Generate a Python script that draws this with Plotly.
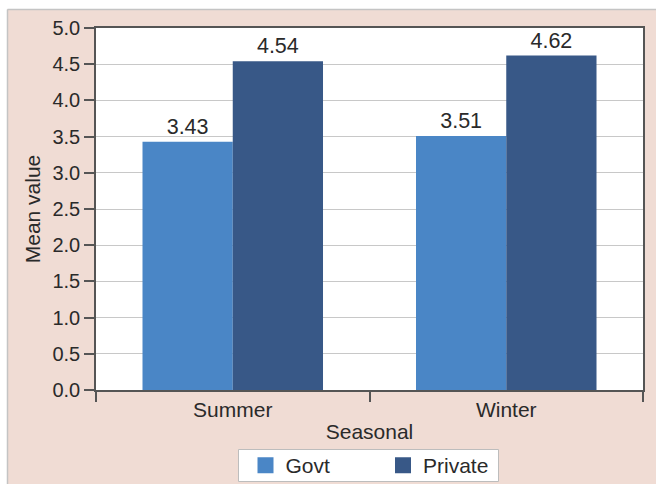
import plotly.graph_objects as go

categories = ["Summer", "Winter"]
govt = [3.43, 3.51]
private = [4.54, 4.62]
y_ticks = [0.0, 0.5, 1.0, 1.5, 2.0, 2.5, 3.0, 3.5, 4.0, 4.5, 5.0]
series_names = ["Govt", "Private"]
series_colors = ["#4a86c6", "#385887"]

PINK = "#f0dcd4"
FONT = "Liberation Sans, Arial, sans-serif"
TXT = "#2a2a2a"
AX = "#555555"

fig = go.Figure()
for name, vals, col in zip(series_names, [govt, private], series_colors):
    fig.add_trace(go.Bar(name=name, x=categories, y=vals, marker=dict(color=col, line=dict(width=0)),
                         text=[f"{v:.2f}" for v in vals], textposition="outside", cliponaxis=False,
                         textfont=dict(size=21.5, color=TXT, family=FONT), showlegend=False))
# legend proxies (larger square swatches)
for name, col in zip(series_names, series_colors):
    fig.add_trace(go.Scatter(name=name, x=[None], y=[None], mode="markers",
                             marker=dict(symbol="square", size=16, color=col), showlegend=True))

L, R, T, B = 96, 13, 28, 94
W, H = 656, 484
pw, ph = W - L - R, H - T - B

def px2x(px):
    return (px - L) / pw

def py2y(py):
    return (H - B - py) / ph

# white strips on top and left, with gray border line
fig.add_shape(type="rect", xref="paper", yref="paper", layer="below",
              x0=px2x(-5), x1=px2x(7), y0=py2y(H + 5), y1=py2y(-5),
              fillcolor="white", line=dict(width=0))
fig.add_shape(type="rect", xref="paper", yref="paper", layer="below",
              x0=px2x(-5), x1=px2x(W + 5), y0=py2y(9), y1=py2y(-5),
              fillcolor="white", line=dict(width=0))
fig.add_shape(type="line", xref="paper", yref="paper", layer="below",
              x0=px2x(7.5), x1=px2x(W + 5), y0=py2y(9.5), y1=py2y(9.5),
              line=dict(color="#c4c4c4", width=1.5))
fig.add_shape(type="line", xref="paper", yref="paper", layer="below",
              x0=px2x(7.5), x1=px2x(7.5), y0=py2y(9.5), y1=py2y(H + 5),
              line=dict(color="#c4c4c4", width=1.5))
# legend box
fig.add_shape(type="rect", xref="paper", yref="paper", layer="above",
              x0=px2x(238.5), x1=px2x(498.5), y0=py2y(481.5), y1=py2y(449.5),
              fillcolor="white", line=dict(color="#bdbdbd", width=1))

fig.update_layout(
    width=W, height=H,
    margin=dict(l=L, r=R, t=T, b=B, autoexpand=False),
    paper_bgcolor=PINK,
    plot_bgcolor="white",
    barmode="group",
    bargap=0.34,
    bargroupgap=0,
    font=dict(family=FONT, size=21, color=TXT),
    showlegend=True,
    legend=dict(orientation="h", x=px2x(245.5), xanchor="left", y=py2y(445), yanchor="top",
                bgcolor="rgba(0,0,0,0)", borderwidth=0,
                font=dict(size=21, color=TXT, family=FONT), entrywidth=92.5,
                itemsizing="trace", itemclick=False),
    xaxis=dict(
        title=dict(text="Seasonal", font=dict(size=21, color=TXT), standoff=4),
        showline=True, linecolor=AX, linewidth=1.5, mirror=True,
        ticks="outside", tickson="boundaries", ticklen=10, tickcolor=AX, tickwidth=1.5,
        tickfont=dict(size=21, color=TXT),
        showgrid=False,
    ),
    yaxis=dict(
        title=dict(text="Mean value", font=dict(size=21, color=TXT), standoff=6),
        range=[0, 5.0],
        tickvals=y_ticks, ticktext=[f"{v:.1f}" for v in y_ticks],
        showline=True, linecolor=AX, linewidth=1.5, mirror=True,
        ticks="outside", ticklen=10, tickcolor=AX, tickwidth=1.5,
        tickfont=dict(size=20, color=TXT),
        showgrid=True, gridcolor="#c8c8c8", gridwidth=1.2,
        zeroline=False,
    ),
)

fig.write_html("out.html")
